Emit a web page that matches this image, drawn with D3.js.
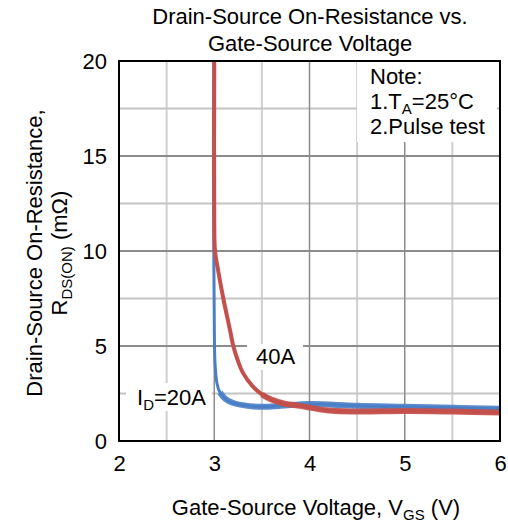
<!DOCTYPE html>
<html>
<head>
<meta charset="utf-8">
<script src="https://cdn.jsdelivr.net/npm/d3@7"></script>
<style>
  body { margin: 0; background: #fff; }
  svg text { font-family: "Liberation Sans", Arial, sans-serif; fill: #000; }
</style>
</head>
<body>
<div id="chart"></div>
<script>
// Vgs (V) and Rds(on) (mOhm)
var vgs20 = [2.995, 2.995, 3.0, 3.005, 3.015, 3.03, 3.06, 3.12, 3.2, 3.35, 3.5, 3.7, 4.0, 4.5, 5.0, 5.5, 6.0];
var rds20 = [20, 10, 6.5, 4.5, 3.6, 3.0, 2.55, 2.2, 2.0, 1.85, 1.8, 1.85, 1.95, 1.85, 1.8, 1.75, 1.7];
var vgs40 = [3.0, 3.0, 3.008, 3.04, 3.095, 3.165, 3.2, 3.25, 3.3, 3.4, 3.5, 3.6, 3.75, 3.9, 4.2, 4.5, 5.0, 5.5, 6.0];
var rds40 = [20, 11.5, 10.0, 9.0, 7.5, 5.85, 5.0, 4.2, 3.6, 2.9, 2.45, 2.18, 1.95, 1.85, 1.6, 1.55, 1.58, 1.55, 1.5];
var xTicks = [2, 3, 4, 5, 6];
var yTicks = [0, 5, 10, 15, 20];
var xMinor = [2.5, 3.5, 4.5, 5.5];
var yMinor = [2.5, 7.5, 12.5, 17.5];

var W = 508, H = 525;
var pL = 119, pT = 61, pR = 500, pB = 441;
var FS = '22px';

var svg = d3.select('#chart').append('svg')
  .attr('width', W).attr('height', H);

var x = d3.scaleLinear().domain([2, 6]).range([pL, pR]);
var y = d3.scaleLinear().domain([0, 20]).range([pB, pT]);

// grid
var g = svg.append('g');
g.selectAll('.vmin').data(xMinor).enter().append('line')
  .attr('x1', d => x(d)).attr('x2', d => x(d)).attr('y1', pT).attr('y2', pB)
  .attr('stroke', '#cfcfcf').attr('stroke-width', 2);
g.selectAll('.hmin').data(yMinor).enter().append('line')
  .attr('y1', d => y(d)).attr('y2', d => y(d)).attr('x1', pL).attr('x2', pR)
  .attr('stroke', '#c4c4c4').attr('stroke-width', 2);
g.selectAll('.vmaj').data(xTicks.slice(1, -1)).enter().append('line')
  .attr('x1', d => x(d)).attr('x2', d => x(d)).attr('y1', pT).attr('y2', pB)
  .attr('stroke', '#8c8c8c').attr('stroke-width', 1.5);
g.selectAll('.hmaj').data(yTicks.slice(1, -1)).enter().append('line')
  .attr('y1', d => y(d)).attr('y2', d => y(d)).attr('x1', pL).attr('x2', pR)
  .attr('stroke', '#8c8c8c').attr('stroke-width', 2);

// white boxes behind labels
svg.append('rect').attr('x', 357).attr('y', pT + 1).attr('width', 140).attr('height', 80).attr('fill', '#fff');
svg.append('rect').attr('x', 247).attr('y', 344).attr('width', 56).attr('height', 26).attr('fill', '#fff');
svg.append('rect').attr('x', 126).attr('y', 383).attr('width', 86).attr('height', 28).attr('fill', '#fff');

// curves: thin trace, thicker where the curve flattens out
var line = d3.line()
  .x(d => x(d[0])).y(d => y(d[1]))
  .curve(d3.curveCatmullRom.alpha(0.5));

svg.append('clipPath').attr('id', 'clip').append('rect')
  .attr('x', pL).attr('y', pT).attr('width', pR - pL).attr('height', pB - pT);

function drawSeries(vs, rs, color, w, cut) {
  var pts = d3.zip(vs, rs);
  svg.append('path').datum(pts)
    .attr('d', line).attr('fill', 'none')
    .attr('stroke', color).attr('stroke-width', w)
    .attr('clip-path', 'url(#clip)');
  svg.append('path').datum(pts.filter(d => d[1] <= cut))
    .attr('d', line).attr('fill', 'none')
    .attr('stroke', color).attr('stroke-width', 6).attr('stroke-opacity', 0.9)
    .attr('clip-path', 'url(#clip)');
}
drawSeries(vgs20, rds20, '#4a7fc6', 3, 2.6);
drawSeries(vgs40, rds40, '#c4504c', 4, 2.5);

// frame
svg.append('rect').attr('x', pL).attr('y', pT).attr('width', pR - pL).attr('height', pB - pT)
  .attr('fill', 'none').attr('stroke', '#000').attr('stroke-width', 2);

// axes
var xAxis = svg.append('g').attr('transform', 'translate(0,' + pB + ')')
  .call(d3.axisBottom(x).tickValues(xTicks).tickSize(0).tickPadding(14).tickFormat(d3.format('d')));
var yAxis = svg.append('g').attr('transform', 'translate(' + pL + ',0)')
  .call(d3.axisLeft(y).tickValues(yTicks).tickSize(0).tickPadding(12).tickFormat(d3.format('d')));
[xAxis, yAxis].forEach(function(a) {
  a.select('.domain').remove();
  a.selectAll('text').style('font-size', FS).style('font-family', '"Liberation Sans", Arial, sans-serif');
});

// titles
svg.append('text').attr('x', 310).attr('y', 24).attr('text-anchor', 'middle')
  .style('font-size', FS).text('Drain-Source On-Resistance vs.');
svg.append('text').attr('x', 310).attr('y', 51).attr('text-anchor', 'middle')
  .style('font-size', FS).text('Gate-Source Voltage');

function sub(t, main, s, after) {
  t.append('tspan').text(main);
  t.append('tspan').text(s).attr('dy', 5).style('font-size', '15px');
  t.append('tspan').text(after).attr('dy', -5);
  return t;
}

var xt = svg.append('text').attr('x', 316).attr('y', 515).attr('text-anchor', 'middle').style('font-size', FS);
sub(xt, 'Gate-Source Voltage, V', 'GS', ' (V)');

svg.append('text').attr('transform', 'translate(42,253) rotate(-90)').attr('text-anchor', 'middle')
  .style('font-size', FS).text('Drain-Source On-Resistance,');
var yt = svg.append('text').attr('transform', 'translate(67,253) rotate(-90)').attr('text-anchor', 'middle')
  .style('font-size', FS);
sub(yt, 'R', 'DS(ON)', ' (m\u03A9)');

// note
svg.append('text').attr('x', 370).attr('y', 84).style('font-size', FS).text('Note:');
sub(svg.append('text').attr('x', 370).attr('y', 109).style('font-size', FS), '1.T', 'A', '=25\u00B0C');
svg.append('text').attr('x', 370).attr('y', 134).style('font-size', FS).text('2.Pulse test');

// series labels
svg.append('text').attr('x', 256).attr('y', 364).style('font-size', FS).text('40A');
sub(svg.append('text').attr('x', 137).attr('y', 405).style('font-size', FS), 'I', 'D', '=20A');
</script>
</body>
</html>
